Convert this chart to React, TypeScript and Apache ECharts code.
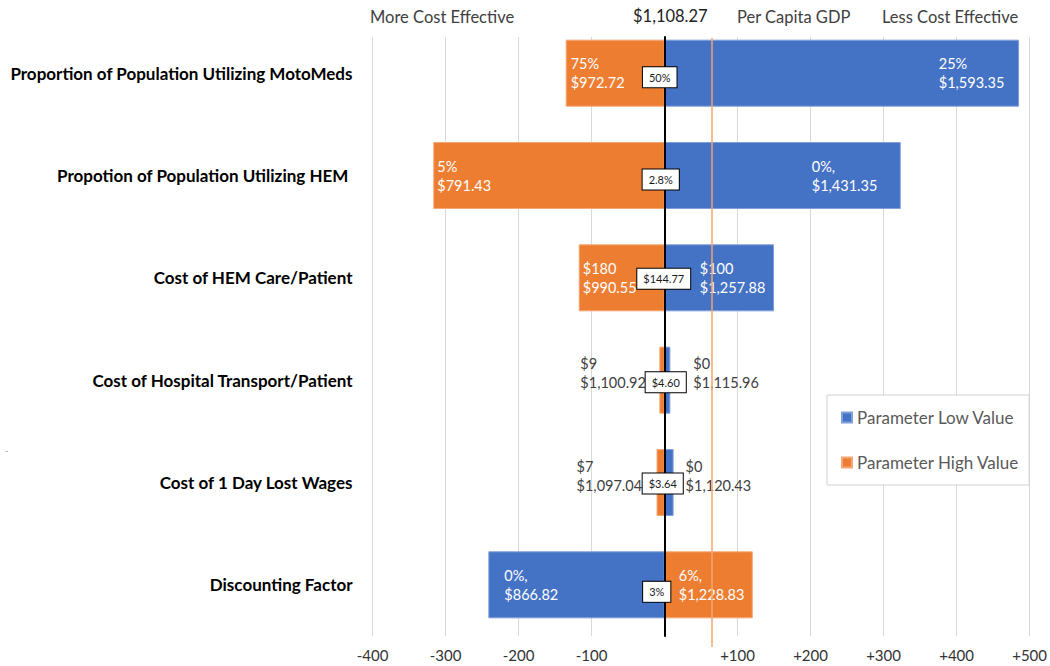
import React, { useEffect, useRef } from 'react';
import * as echarts from 'echarts';

// ---------- data ----------
const BASE_RESULT = 1108.27;
const GDP_DIFF = 65;
const categories = [
  'Proportion of Population Utilizing MotoMeds',
  'Propotion of Population Utilizing HEM ',
  'Cost of HEM Care/Patient',
  'Cost of Hospital Transport/Patient',
  'Cost of 1 Day Lost Wages',
  'Discounting Factor',
];
const lowResults = [1593.35, 1431.35, 1257.88, 1115.96, 1120.43, 866.82];
const highResults = [972.72, 791.43, 990.55, 1100.92, 1097.04, 1228.83];
const lowParams = ['25%', '0%,', '$100', '$0', '$0', '0%,'];
const highParams = ['75%', '5%', '$180', '$9', '$7', '6%,'];
const baseParams = ['50%', '2.8%', '$144.77', '$4.60', '$3.64', '3%'];
const X_MIN = -400;
const X_MAX = 500;
const X_STEP = 100;

// ---------- styles ----------
const BLUE = '#4472C4';
const ORANGE = '#ED7D31';
const FONT = 'Lato, "Open Sans", sans-serif';
const DARK = '#404040';

const lowLabelPlace: any[] = [
  { position: 'insideLeft', distance: 274, color: '#fff' },
  { position: 'insideLeft', distance: 147, color: '#fff' },
  { position: 'insideLeft', distance: 35, color: '#fff' },
  { position: 'right', distance: 23, color: DARK, offset: [0, -7] },
  { position: 'right', distance: 12, color: DARK, offset: [0, -7] },
  { position: 'insideLeft', distance: 16, color: '#fff' },
];
const highLabelPlace: any[] = [
  { position: 'insideLeft', distance: 5, color: '#fff' },
  { position: 'insideLeft', distance: 4, color: '#fff' },
  { position: 'insideLeft', distance: 4, color: '#fff' },
  { position: 'left', distance: 79, align: 'left', color: DARK, offset: [0, -7] },
  { position: 'left', distance: 80, align: 'left', color: DARK, offset: [0, -7] },
  { position: 'insideLeft', distance: 14, color: '#fff' },
];
const boxOffsets = [[-5, 4], [-4, 4], [-1, 1], [1, 2], [-2, 1], [-8, 7]];

const money = (v: number) =>
  '$' + v.toLocaleString('en-US', { minimumFractionDigits: 2, maximumFractionDigits: 2 });

export default function App() {
  const ref = useRef<HTMLDivElement>(null);
  useEffect(() => {
    document.body.style.margin = '0';
    if (!ref.current) return;
    const chart = echarts.init(ref.current, null, { renderer: 'svg' });
    const gridPos = { left: 372.5, right: 20 };
    const barLabelBase = {
      show: true,
      fontFamily: FONT,
      fontSize: 14.5,
      lineHeight: 19,
      align: 'left',
      verticalAlign: 'middle',
    };
    const lowData = lowResults.map((r, i) => ({
      value: +(r - BASE_RESULT).toFixed(2),
      label: { ...barLabelBase, ...lowLabelPlace[i], formatter: lowParams[i] + '\n' + money(r) },
    }));
    const highData = highResults.map((r, i) => ({
      value: +(r - BASE_RESULT).toFixed(2),
      label: { ...barLabelBase, ...highLabelPlace[i], formatter: highParams[i] + '\n' + money(r) },
    }));
    const boxData = baseParams.map((t, i) => ({
      value: [0, i],
      label: { formatter: t, offset: boxOffsets[i] },
    }));

    chart.setOption({
      animation: false,
      grid: [
        { ...gridPos, top: 22, height: 614 },
        { ...gridPos, top: 37, height: 599 },
        { ...gridPos, top: 38, height: 609 },
      ],
      xAxis: [
        { gridIndex: 0, type: 'value', min: X_MIN, max: X_MAX, interval: X_STEP, show: false },
        {
          gridIndex: 1,
          type: 'value',
          min: X_MIN,
          max: X_MAX,
          interval: X_STEP,
          axisLine: { show: false },
          axisTick: { show: false },
          splitLine: { show: true, lineStyle: { color: '#d9d9d9', width: 1 } },
          axisLabel: {
            margin: 11,
            fontFamily: FONT,
            fontSize: 15,
            color: '#333',
            formatter: (v: number) => (v > 0 ? '+' + v : v === 0 ? '' : String(v)),
          },
        },
        { gridIndex: 2, type: 'value', min: X_MIN, max: X_MAX, interval: X_STEP, show: false },
      ],
      yAxis: [
        {
          gridIndex: 0,
          type: 'category',
          inverse: true,
          data: categories,
          axisLine: { show: false, onZero: false },
          axisTick: { show: false },
          splitLine: { show: false },
          axisLabel: {
            margin: 20,
            fontFamily: FONT,
            fontSize: 17,
            fontWeight: 'bold',
            color: '#000',
          },
        },
        {
          gridIndex: 1,
          type: 'value',
          min: 0,
          max: 1,
          z: 5,
          axisLine: { show: true, onZero: true, lineStyle: { color: '#000', width: 2 } },
          axisTick: { show: false },
          axisLabel: { show: false },
          splitLine: { show: false },
        },
        { gridIndex: 2, type: 'value', min: 0, max: 1, show: false, splitLine: { show: false } },
      ],
      legend: {
        orient: 'vertical',
        left: 827,
        top: 395,
        icon: 'rect',
        itemWidth: 10,
        itemHeight: 10,
        itemGap: 28,
        padding: [14, 10, 14, 14],
        backgroundColor: '#fff',
        borderColor: '#d0d0d0',
        borderWidth: 1,
        textStyle: { fontFamily: FONT, fontSize: 17, color: '#595959' },
        data: ['Parameter Low Value', 'Parameter High Value'],
      },
      series: [
        {
          name: 'Parameter Low Value',
          type: 'bar',
          xAxisIndex: 0,
          yAxisIndex: 0,
          barWidth: 67,
          barGap: '-100%',
          itemStyle: { color: BLUE, borderColor: '#7F9FDA', borderWidth: 1 },
          data: lowData,
          z: 2,
        },
        {
          name: 'Parameter High Value',
          type: 'bar',
          xAxisIndex: 0,
          yAxisIndex: 0,
          barWidth: 67,
          barGap: '-100%',
          itemStyle: { color: ORANGE, borderColor: '#F4A774', borderWidth: 1 },
          data: highData,
          z: 2,
        },
        {
          name: 'base',
          type: 'scatter',
          xAxisIndex: 0,
          yAxisIndex: 0,
          symbolSize: 0,
          z: 10,
          silent: true,
          itemStyle: { opacity: 1 },
          label: {
            show: true,
            position: 'inside',
            fontFamily: FONT,
            fontSize: 11,
            color: '#1a1a1a',
            backgroundColor: '#fff',
            borderColor: '#000',
            borderWidth: 1,
            padding: [5, 6, 4, 6],
          },
          data: boxData,
        },
        {
          name: 'gdp',
          type: 'line',
          xAxisIndex: 2,
          yAxisIndex: 2,
          data: [],
          z: 1,
          silent: true,
          markLine: {
            symbol: 'none',
            silent: true,
            label: { show: false },
            lineStyle: { color: '#F4A46E', width: 1.5, type: 'solid' },
            data: [{ xAxis: GDP_DIFF }],
          },
        },
      ],
      graphic: [
        {
          type: 'text',
          left: 370,
          top: 8,
          style: { text: 'More Cost Effective', font: `16.5px ${FONT}`, fill: DARK },
        },
        {
          type: 'text',
          left: 633,
          top: 7,
          style: { text: money(BASE_RESULT), font: `16.5px ${FONT}`, fill: '#222' },
        },
        {
          type: 'text',
          left: 737,
          top: 8,
          style: { text: 'Per Capita GDP', font: `16.5px ${FONT}`, fill: DARK },
        },
        {
          type: 'text',
          left: 882,
          top: 8,
          style: { text: 'Less Cost Effective', font: `16.5px ${FONT}`, fill: DARK },
        },
        {
          type: 'text',
          left: 5,
          top: 446,
          style: { text: '-', font: `9px ${FONT}`, fill: '#999' },
        },
      ],
    });
    return () => chart.dispose();
  }, []);
  return <div ref={ref} style={{ width: 1050, height: 666 }} />;
}
